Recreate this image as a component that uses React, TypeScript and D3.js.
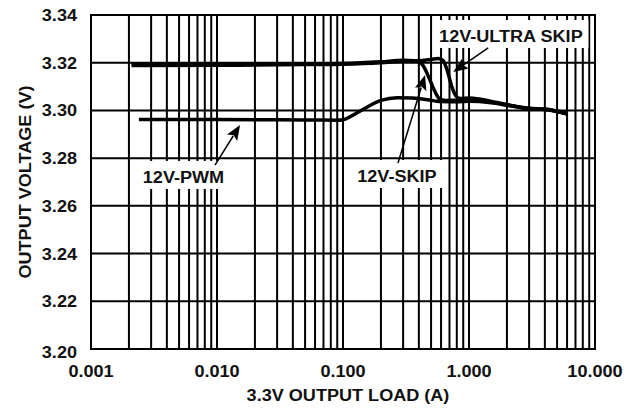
import React from "react";
import * as d3 from "d3";

const W = 642;
const H = 409;

const yTicks = [3.2, 3.22, 3.24, 3.26, 3.28, 3.3, 3.32, 3.34];
const xTickValues = [0.001, 0.01, 0.1, 1, 10];
const xTickLabels = ["0.001", "0.010", "0.100", "1.000", "10.000"];

const pwmLoad = [0.0024, 0.005, 0.01, 0.03, 0.06, 0.09, 0.1, 0.115, 0.145, 0.2, 0.27, 0.35, 0.45, 0.6, 0.8, 1.0, 1.5, 2.0, 3.0, 4.0, 6.0];
const pwmVolt = [3.2962, 3.2962, 3.2962, 3.2961, 3.296, 3.2959, 3.2961, 3.2975, 3.3005, 3.3042, 3.3053, 3.3052, 3.3046, 3.3037, 3.3036, 3.3038, 3.3032, 3.3022, 3.3007, 3.3004, 3.2985];

const skipLoad = [0.0021, 0.01, 0.05, 0.1, 0.2, 0.3, 0.37, 0.42, 0.47, 0.53, 0.58, 0.65, 0.8, 1.0, 1.5, 2.0, 3.0, 4.0, 6.0];
const skipVolt = [3.3192, 3.3193, 3.3195, 3.3197, 3.3204, 3.321, 3.3208, 3.3196, 3.315, 3.3085, 3.305, 3.3042, 3.3043, 3.3043, 3.3035, 3.3023, 3.3008, 3.3005, 3.2986];

const ultraLoad = [0.0021, 0.01, 0.05, 0.1, 0.2, 0.3, 0.4, 0.5, 0.57, 0.62, 0.67, 0.73, 0.79, 0.86, 1.0, 1.2, 1.5, 2.0, 3.0, 4.0, 6.0];
const ultraVolt = [3.3188, 3.3189, 3.3192, 3.3194, 3.32, 3.3206, 3.3208, 3.3214, 3.3218, 3.321, 3.317, 3.31, 3.306, 3.305, 3.3052, 3.3048, 3.3038, 3.3025, 3.3009, 3.3006, 3.2987];

// annotations in data coordinates
const labelNames = ["12V-ULTRA SKIP", "12V-SKIP", "12V-PWM"];
const labelLoad = [2.15, 0.268, 0.00542];
const labelVolt = [3.3287, 3.27, 3.2696];
const arrowFromLoad = [1.42, 0.273, 0.00964];
const arrowFromVolt = [3.3262, 3.278, 3.2771];
const arrowToLoad = [0.75, 0.448, 0.01524];
const arrowToVolt = [3.3161, 3.3148, 3.2939];

const FONT = "'Liberation Sans', Arial, Helvetica, sans-serif";
const SX = 1.13;

function T({ x, y, anchor = "middle", children, size = 16, rotate = 0 }: any) {
  return (
    <text
      transform={`translate(${x},${y}) rotate(${rotate}) scale(${SX},1)`}
      textAnchor={anchor}
      fontFamily={FONT}
      fontWeight="bold"
      fontSize={size}
      fill="#111"
    >
      {children}
    </text>
  );
}

export default function App() {
  const left = 91;
  const right = 595;
  const top = 15;
  const bottom = 349;

  const x = d3.scaleLog().domain([0.001, 10]).range([left, right]);
  const y = d3.scaleLinear().domain([3.2, 3.34]).range([bottom, top]);

  const minor: number[] = [];
  for (let e = -3; e < 1; e++) {
    for (let m = 2; m <= 9; m++) minor.push(m * Math.pow(10, e));
  }

  const line = d3
    .line<[number, number]>()
    .x((d) => x(d[0]))
    .y((d) => y(d[1]))
    .curve(d3.curveMonotoneX);

  const series = [
    { load: pwmLoad, volt: pwmVolt },
    { load: skipLoad, volt: skipVolt },
    { load: ultraLoad, volt: ultraVolt },
  ];

  const boxW = [155, 93, 91];

  return (
    <svg width={W} height={H} style={{ position: "absolute", left: 0, top: 0, background: "#fff" }}>
      <rect x={0} y={0} width={W} height={H} fill="#fff" />
      {/* grid */}
      {minor.map((v, i) => (
        <line key={"m" + i} x1={x(v)} x2={x(v)} y1={top} y2={bottom} stroke="#000" strokeWidth={2} />
      ))}
      {xTickValues.map((v, i) => (
        <line key={"M" + i} x1={x(v)} x2={x(v)} y1={top} y2={bottom} stroke="#000" strokeWidth={2} />
      ))}
      {yTicks.map((v, i) => (
        <line key={"h" + i} x1={left} x2={right} y1={y(v)} y2={y(v)} stroke="#000" strokeWidth={2} />
      ))}
      <rect x={left} y={top} width={right - left} height={bottom - top} fill="none" stroke="#000" strokeWidth={2} />

      {/* curves */}
      {series.map((s, i) => (
        <path
          key={"s" + i}
          d={line(s.load.map((l, j) => [l, s.volt[j]] as [number, number])) || ""}
          fill="none"
          stroke="#000"
          strokeWidth={3.5}
          strokeLinejoin="round"
          strokeLinecap="butt"
        />
      ))}

      {/* annotation boxes */}
      {labelNames.map((name, i) => {
        const lx = x(labelLoad[i]);
        const ly = y(labelVolt[i]);
        return <rect key={"b" + i} x={lx - boxW[i] / 2} y={ly - 22} width={boxW[i]} height={28} fill="#fff" />;
      })}
      {labelNames.map((name, i) => {
        const x1 = x(arrowFromLoad[i]);
        const y1 = y(arrowFromVolt[i]);
        const x2 = x(arrowToLoad[i]);
        const y2 = y(arrowToVolt[i]);
        const ang = Math.atan2(y2 - y1, x2 - x1);
        const hl = 15;
        const hw = 6;
        const bx = x2 - hl * Math.cos(ang);
        const by = y2 - hl * Math.sin(ang);
        const px = -Math.sin(ang);
        const py = Math.cos(ang);
        const pts = `${x2},${y2} ${bx + hw * px},${by + hw * py} ${bx + 3 * Math.cos(ang)},${by + 3 * Math.sin(ang)} ${bx - hw * px},${by - hw * py}`;
        return (
          <g key={"r" + i}>
            <line x1={x1} y1={y1} x2={bx + 2 * Math.cos(ang)} y2={by + 2 * Math.sin(ang)} stroke="#000" strokeWidth={1.5} />
            <polygon points={pts} fill="#000" />
          </g>
        );
      })}
      {labelNames.map((name, i) => (
        <T key={"t" + i} x={x(labelLoad[i])} y={y(labelVolt[i])}>
          {name}
        </T>
      ))}

      {/* axis labels */}
      {yTicks.map((v, i) => (
        <T key={"yl" + i} x={77} y={y(v) + 6 + (i === 0 ? 3 : 0)} anchor="end">
          {v.toFixed(2)}
        </T>
      ))}
      {xTickValues.map((v, i) => (
        <T key={"xl" + i} x={x(v)} y={377}>
          {xTickLabels[i]}
        </T>
      ))}
      <T x={(left + right) / 2 + 5} y={401}>
        3.3V OUTPUT LOAD (A)
      </T>
      <T x={31} y={(top + bottom) / 2} rotate={-90}>
        OUTPUT VOLTAGE (V)
      </T>
    </svg>
  );
}
